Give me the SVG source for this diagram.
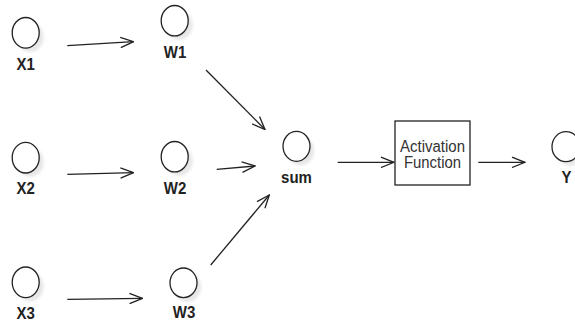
<svg xmlns="http://www.w3.org/2000/svg" width="575" height="322" viewBox="0 0 575 322">
<defs>
<marker id="arr" viewBox="0 0 15 12" refX="14" refY="6" markerWidth="15" markerHeight="12" markerUnits="userSpaceOnUse" orient="auto">
<path d="M1,0.8 L14,6 L1,11.2" fill="none" stroke="#222" stroke-width="1.3"/>
</marker>
<filter id="blur" x="-50%" y="-50%" width="200%" height="200%"><feGaussianBlur stdDeviation="1.5"/></filter>
</defs>
<style>
.sh{fill:#e6e6e6;filter:url(#blur)}
.c{fill:#fff;stroke:#222;stroke-width:1.3}
.lbl{font-family:"Liberation Sans",Arial,sans-serif;font-weight:bold;font-size:15px;fill:#222;text-anchor:middle}
.bt{font-family:"Liberation Sans",Arial,sans-serif;font-size:16px;fill:#333;text-anchor:middle}
.e{stroke:#222;stroke-width:1.3;fill:none;marker-end:url(#arr)}
.b{fill:#fff;stroke:#222;stroke-width:1.3}
</style>
<rect width="575" height="322" fill="#fff"/>
<g id="X1"><ellipse class="sh" cx="30" cy="37" rx="13.5" ry="15"/><ellipse class="c" cx="25.7" cy="32.8" rx="13.5" ry="15.3"/><text class="lbl" transform="translate(25.7,69.5) scale(1,1.1)">X1</text></g>
<g id="X2"><ellipse class="sh" cx="30" cy="162" rx="13.5" ry="15"/><ellipse class="c" cx="25.7" cy="157.7" rx="13.5" ry="15.3"/><text class="lbl" transform="translate(25.7,193.5) scale(1,1.1)">X2</text></g>
<g id="X3"><ellipse class="sh" cx="30" cy="286.5" rx="13.5" ry="15"/><ellipse class="c" cx="25.7" cy="282.3" rx="13.5" ry="15.3"/><text class="lbl" transform="translate(25.7,319) scale(1,1.1)">X3</text></g>
<g id="W1"><ellipse class="sh" cx="179" cy="25" rx="13.5" ry="15"/><ellipse class="c" cx="174.7" cy="20.7" rx="13.5" ry="15.2"/><text class="lbl" transform="translate(175,57.5) scale(1,1.1)">W1</text></g>
<g id="W2"><ellipse class="sh" cx="179" cy="161" rx="13.5" ry="15"/><ellipse class="c" cx="174.7" cy="156.7" rx="13.5" ry="15.2"/><text class="lbl" transform="translate(175,193.5) scale(1,1.1)">W2</text></g>
<g id="W3"><ellipse class="sh" cx="187.5" cy="287" rx="13.5" ry="15"/><ellipse class="c" cx="183.5" cy="282.8" rx="13.5" ry="14.8"/><text class="lbl" transform="translate(184,317.5) scale(1,1.1)">W3</text></g>
<g id="sum"><ellipse class="sh" cx="300.5" cy="150.5" rx="13.5" ry="15"/><ellipse class="c" cx="296.5" cy="146.3" rx="13.5" ry="15"/><text class="lbl" transform="translate(296.5,182.5) scale(1,1.15)">sum</text></g>
<g id="act"><rect class="b" x="395" y="121" width="75" height="64"/><text class="bt" x="432.5" y="152" textLength="65" lengthAdjust="spacingAndGlyphs">Activation</text><text class="bt" x="432.5" y="168" textLength="57" lengthAdjust="spacingAndGlyphs">Function</text></g>
<g id="Y"><ellipse class="sh" cx="570" cy="151" rx="13.5" ry="15"/><ellipse class="c" cx="566" cy="146.7" rx="14" ry="15"/><text class="lbl" transform="translate(566.5,183) scale(1,1.1)">Y</text></g>
<g id="connectors">
<line class="e" x1="67.3" y1="45.7" x2="133.5" y2="41.7"/>
<line class="e" x1="67.3" y1="174.3" x2="133.5" y2="172.7"/>
<line class="e" x1="67.3" y1="299.3" x2="142.5" y2="298.3"/>
<line class="e" x1="206" y1="70" x2="265" y2="129.5"/>
<line class="e" x1="216.7" y1="169.3" x2="255" y2="166"/>
<line class="e" x1="210.7" y1="265" x2="269.3" y2="195"/>
<line class="e" x1="337.7" y1="162.3" x2="394" y2="162.3"/>
<line class="e" x1="478.3" y1="162.3" x2="525" y2="162.3"/>
</g>
</svg>
